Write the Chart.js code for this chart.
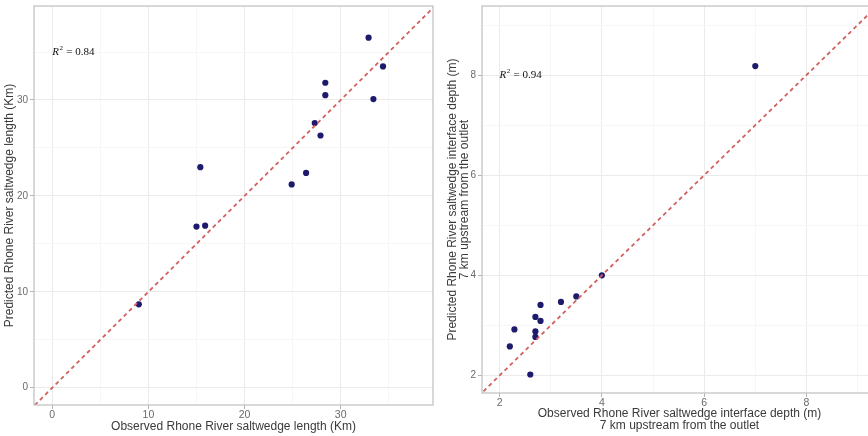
<!DOCTYPE html>
<html><head><meta charset="utf-8">
<script src="https://cdn.jsdelivr.net/npm/chart.js@4.4.1/dist/chart.umd.min.js"></script>
<style>
html,body{margin:0;padding:0;background:#fff;width:868px;height:436px;overflow:hidden;position:relative;}
#c1{position:absolute;left:0;top:0;}
#c2{position:absolute;left:440px;top:0;}
</style></head><body>
<canvas id="c1" width="440" height="436"></canvas>
<canvas id="c2" width="445" height="436"></canvas>
<script>
// ---- Left panel: saltwedge length (Km) ----
const lengthObserved  = [32.9, 34.4, 28.4, 28.4, 33.4, 27.3, 27.9, 15.4, 26.4, 24.9, 15.0, 15.9, 9.0];
const lengthPredicted = [36.5, 33.5, 31.8, 30.5, 30.1, 27.6, 26.3, 23.0, 22.4, 21.2, 16.8, 16.9, 8.7];
const lengthMajorTicks = [0, 10, 20, 30];
const lengthMinorTicks = [5, 15, 25, 35];
const lengthR2 = 0.84;
const lengthR2At = [0, 35];
const lengthXTitle = 'Observed Rhone River saltwedge length (Km)';
const lengthYTitle = 'Predicted Rhone River saltwedge length (Km)';

// ---- Right panel: saltwedge interface depth (m) ----
const depthObserved  = [7.0, 4.0, 3.5, 3.2, 2.8, 2.7, 2.8, 2.29, 2.7, 2.7, 2.2, 2.6];
const depthPredicted = [8.18, 4.0, 3.58, 3.47, 3.41, 3.17, 3.09, 2.92, 2.88, 2.77, 2.58, 2.02];
const depthMajorTicks = [2, 4, 6, 8];
const depthMinorTicks = [3, 5, 7, 9];
const depthR2 = 0.94;
const depthR2At = [2, 8];
const depthXTitle = ['Observed Rhone River saltwedge interface depth (m)', '7 km upstream from the outlet'];
const depthYTitle = ['Predicted Rhone River saltwedge interface depth (m)', '7 km upstream from the outlet'];

// 1:1 reference line
const identityLine = [-10, 50];

const SANS = '"Liberation Sans", Arial, sans-serif';
const SERIF = '"Liberation Serif", "Times New Roman", serif';

function makeAxis(pos, min, max, major, minor, size, title, titlePad) {
  const all = major.concat(minor).sort((a, b) => a - b);
  return {
    type: 'linear', position: pos, min: min, max: max,
    afterBuildTicks: s => { s.ticks = all.map(v => ({ value: v })); },
    afterFit: s => {
      if (pos === 'left') s.width = size; else s.height = size;
      s.paddingTop = 0; s.paddingBottom = 0; s.paddingLeft = 0; s.paddingRight = 0;
    },
    ticks: {
      autoSkip: false, maxRotation: 0, minRotation: 0, padding: pos === 'left' ? 2 : 0,
      color: '#6a6a6a', font: { family: SANS, size: pos === 'left' ? 10 : 10.5 },
      callback: v => major.includes(v) ? String(v) : ''
    },
    grid: {
      color: c => (c.tick && major.includes(c.tick.value)) ? '#ebebeb' : '#f6f6f6',
      tickColor: c => (c.tick && major.includes(c.tick.value)) ? '#b5b5b5' : 'rgba(0,0,0,0)',
      tickLength: 4, lineWidth: 1
    },
    border: { display: false },
    title: {
      display: true, text: title, color: '#3a3a3a',
      font: { family: SANS, size: 12, lineHeight: 1.0 }, padding: titlePad
    }
  };
}

const framePlugin = {
  id: 'frame',
  afterDatasetsDraw(chart, args, opts) {
    const { ctx, chartArea: a, scales } = chart;
    ctx.save();
    ctx.strokeStyle = '#c4c4c4';
    ctx.lineWidth = 1.3;
    ctx.strokeRect(a.left, a.top, a.right - a.left, a.bottom - a.top);
    // R^2 annotation
    const x = scales.x.getPixelForValue(opts.at[0]);
    const y = scales.y.getPixelForValue(opts.at[1]);
    ctx.fillStyle = '#111';
    ctx.textBaseline = 'middle';
    ctx.textAlign = 'left';
    ctx.font = 'italic 11px ' + SERIF;
    ctx.fillText('R', x, y);
    const w = ctx.measureText('R').width;
    ctx.font = '7px ' + SERIF;
    ctx.fillText('2', x + w + 0.5, y - 4);
    ctx.font = '11px ' + SERIF;
    ctx.fillText(' = ' + opts.r2.toFixed(2), x + w + 4.5, y);
    ctx.restore();
  }
};

function makeChart(id, obs, pred, xr, yr, xMajor, xMinor, yMajor, yMinor, ySize, xSize, xTitle, yTitle, yTitlePad, xTitlePad, padding, r2, r2At) {
  return new Chart(document.getElementById(id), {
    type: 'scatter',
    data: {
      datasets: [
        {
          data: identityLine.map(v => ({ x: v, y: v })),
          showLine: true, borderColor: '#d2605e', borderWidth: 1.8, borderDash: [4, 3.4],
          pointRadius: 0, fill: false, order: 0, clip: 0
        },
        {
          data: obs.map((v, i) => ({ x: v, y: pred[i] })),
          backgroundColor: '#1e1a6c', borderColor: '#1e1a6c', borderWidth: 0,
          pointRadius: 3.1, order: 1
        }
      ]
    },
    options: {
      responsive: false, animation: false,
      layout: { padding: padding },
      plugins: { legend: { display: false }, tooltip: { enabled: false }, frame: { r2: r2, at: r2At } },
      scales: {
        x: makeAxis('bottom', xr[0], xr[1], xMajor, xMinor, xSize, xTitle, xTitlePad),
        y: makeAxis('left', yr[0], yr[1], yMajor, yMinor, ySize, yTitle, yTitlePad)
      }
    },
    plugins: [framePlugin]
  });
}

makeChart('c1', lengthObserved, lengthPredicted, [-1.9, 39.6], [-1.8, 39.8],
  lengthMajorTicks, lengthMinorTicks, lengthMajorTicks, lengthMinorTicks,
  34, 31, lengthXTitle, lengthYTitle,
  { top: 4, bottom: 0 }, { top: 0, bottom: 3.5 },
  { left: 0, top: 6, right: 7, bottom: 0 }, lengthR2, lengthR2At);

makeChart('c2', depthObserved, depthPredicted, [1.656, 9.38], [1.65, 9.38],
  depthMajorTicks, depthMinorTicks, depthMajorTicks, depthMinorTicks,
  42, 43, depthXTitle, depthYTitle,
  { top: 7, bottom: 0 }, { top: 0, bottom: 4.5 },
  { left: 0, top: 6, right: 8, bottom: 0 }, depthR2, depthR2At);
</script>
</body></html>
